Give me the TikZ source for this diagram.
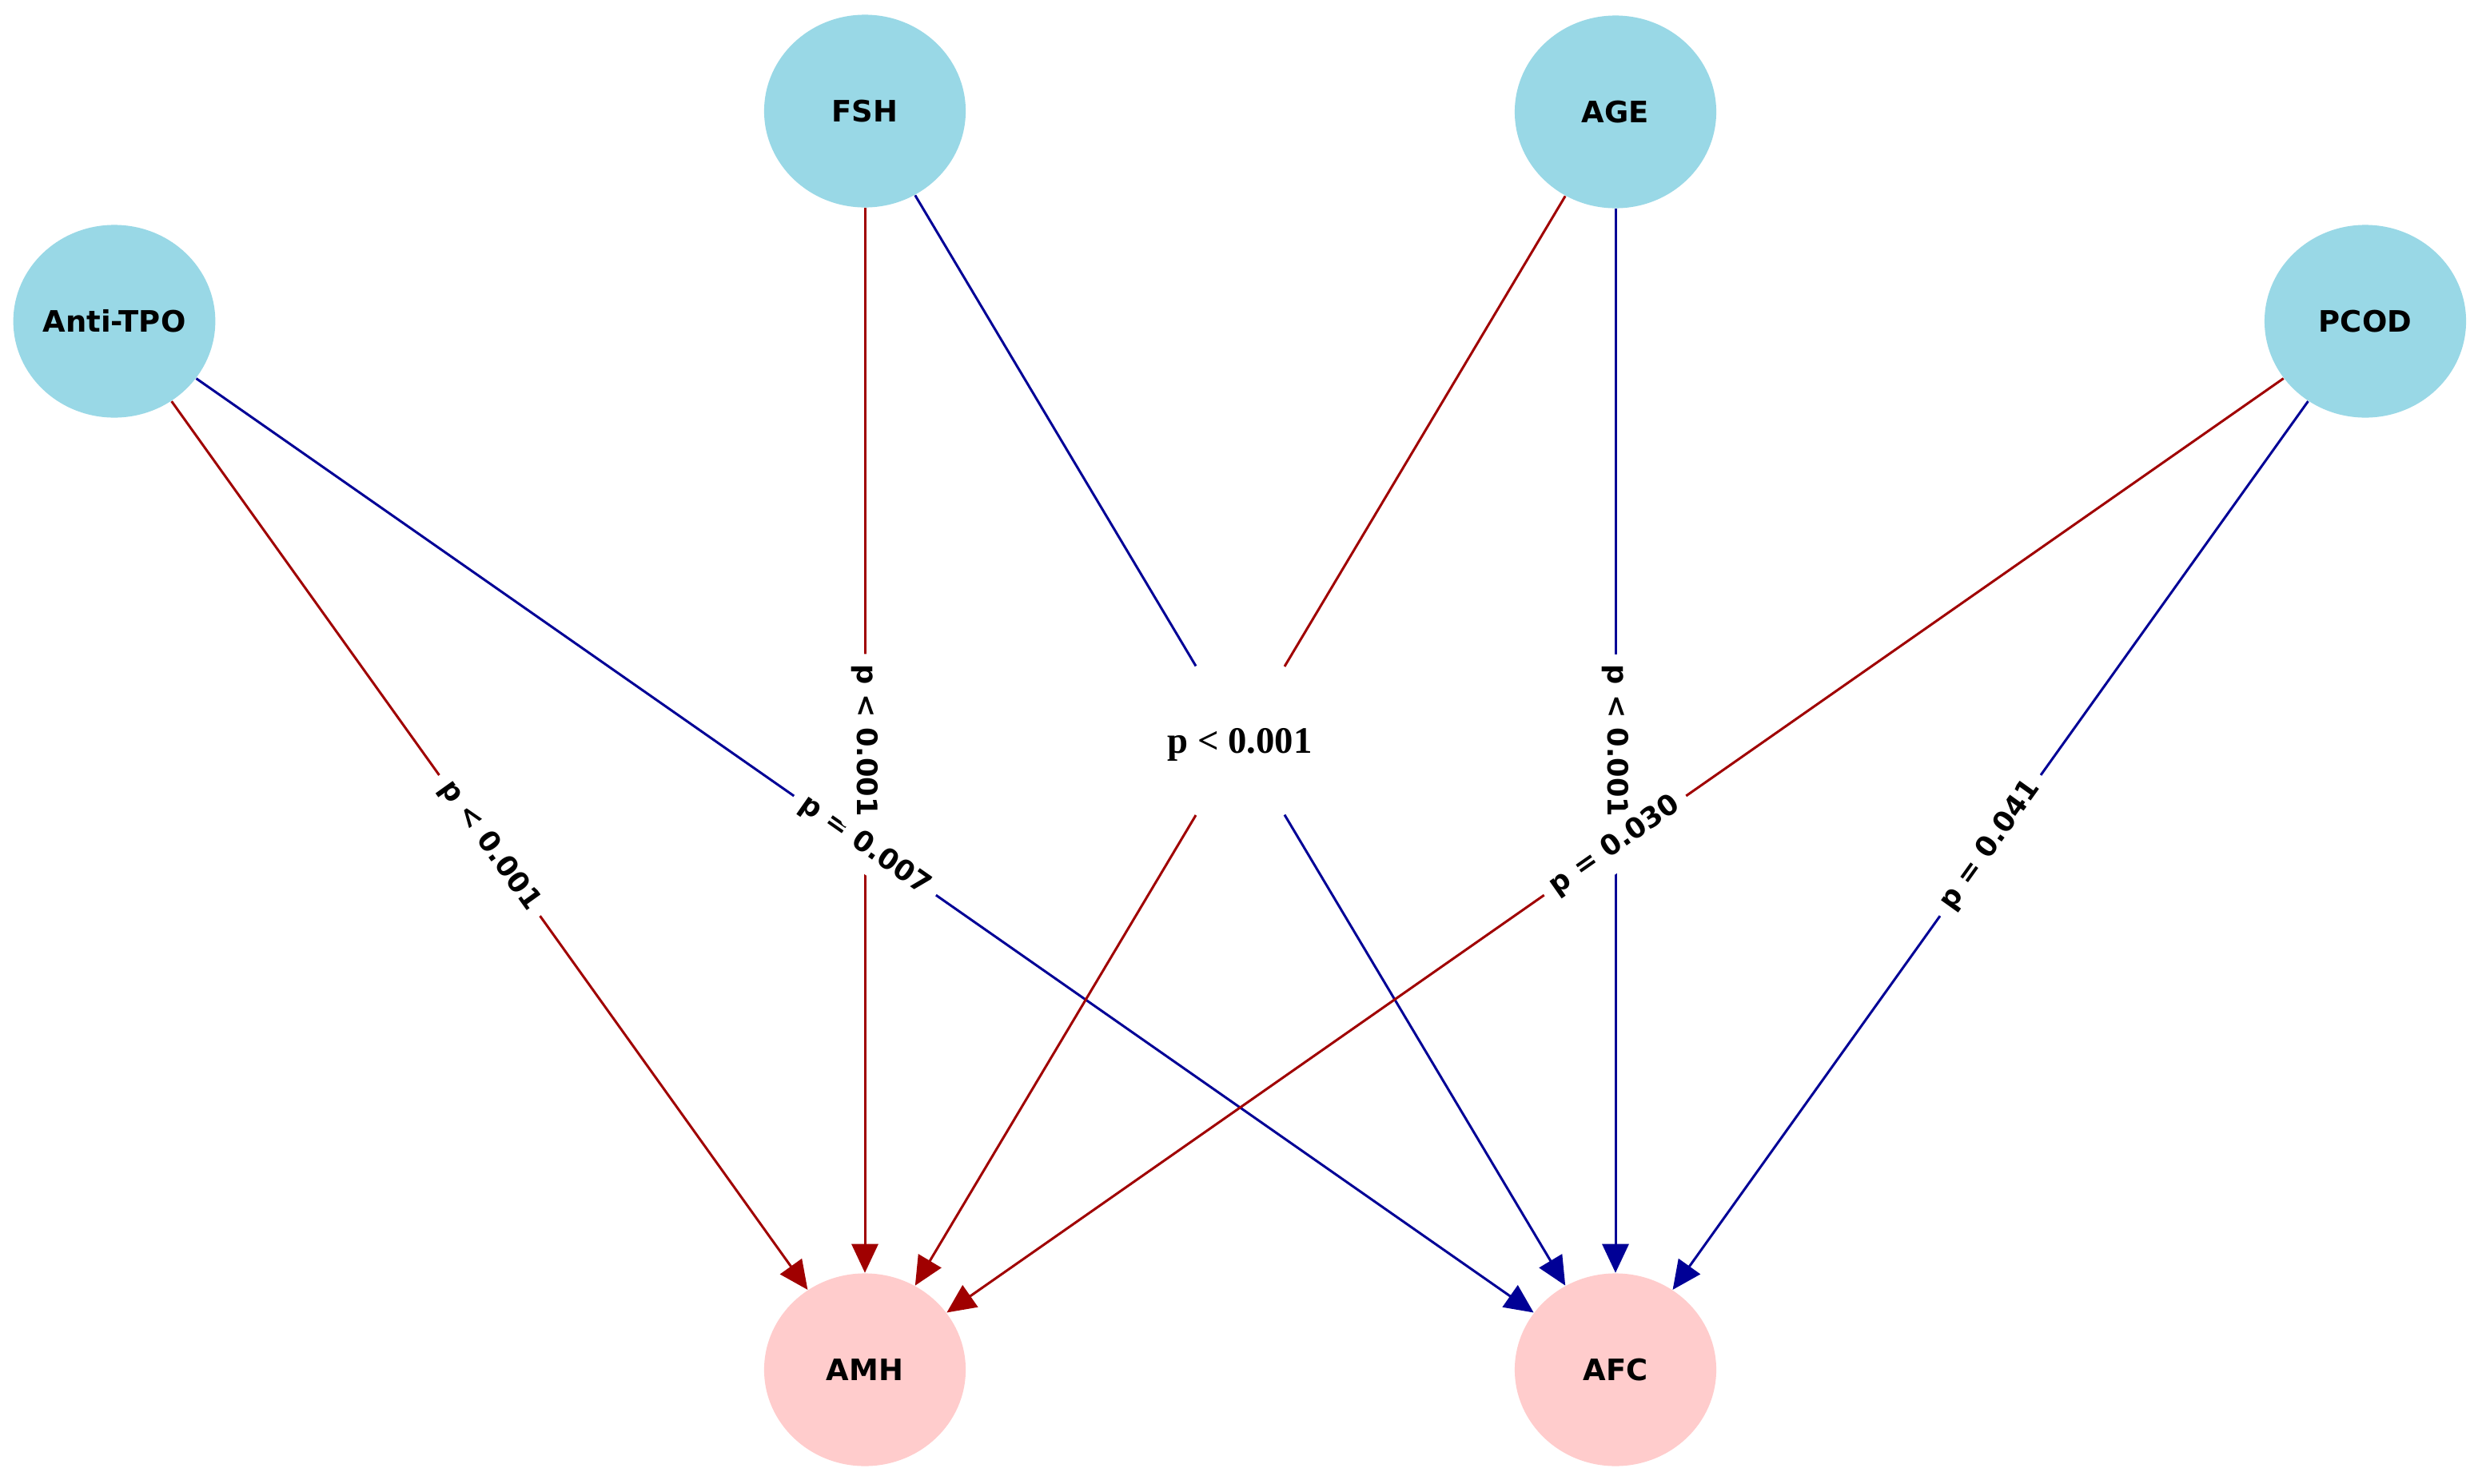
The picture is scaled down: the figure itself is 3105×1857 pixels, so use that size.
\documentclass[tikz,border=0pt]{standalone}
\usepackage{fontspec}
\setmainfont{DejaVu Sans}
\newfontfamily\timesf{Liberation Serif}
\usetikzlibrary{shapes.geometric,arrows.meta}
\definecolor{nodeblue}{RGB}{153,216,230}
\definecolor{nodepink}{RGB}{255,204,204}
\definecolor{edgered}{RGB}{160,0,0}
\definecolor{edgeblue}{RGB}{0,0,150}
\tikzset{
  src/.style={ellipse, fill=nodeblue, minimum width=2.52cm, minimum height=2.41cm, inner sep=0pt,
    font=\fontsize{10.5}{12}\selectfont\bfseries},
  tgt/.style={src, fill=nodepink},
  redarr/.style={draw=edgered, line width=0.03cm, -{Triangle[length=0.36cm,width=0.33cm]}, fill=edgered},
  bluearr/.style={draw=edgeblue, line width=0.03cm, -{Triangle[length=0.36cm,width=0.33cm]}, fill=edgeblue},
  elbl/.style={fill=white, rounded corners=0.08cm, inner sep=0.13cm, font=\fontsize{10}{12}\selectfont\bfseries},
  clbl/.style={fill=white, inner sep=0.05cm, font=\timesf\fontsize{13.3}{15}\selectfont\bfseries}
}
\begin{document}
\begin{tikzpicture}[x=0.01cm, y=-0.01cm]
\useasboundingbox[fill=white] (0,0) rectangle (3105,1857);
\node[src] (atpo) at (143,402) {Anti-TPO};
\node[src] (fsh)  at (1082,139) {FSH};
\node[src] (age)  at (2021,140) {AGE};
\node[src] (pcod) at (2959,402) {PCOD};
\node[tgt] (amh)  at (1082,1714) {AMH};
\node[tgt] (afc)  at (2021,1714) {AFC};
% edges
\draw[redarr]  (atpo) -- (amh);
\draw[bluearr] (atpo) -- (afc);
\draw[redarr]  (fsh)  -- (amh);
\draw[bluearr] (fsh)  -- (afc);
\draw[redarr]  (age)  -- (amh);
\draw[bluearr] (age)  -- (afc);
\draw[redarr]  (pcod) -- (amh);
\draw[bluearr] (pcod) -- (afc);
% edge labels
\path (atpo) -- node[elbl, sloped] {p < 0.001} (amh);
\path (atpo) -- node[elbl, sloped] {p = 0.007} (afc);
\path (fsh)  -- node[elbl, rotate=-90] {p < 0.001} (amh);
\path (fsh)  -- node[elbl, sloped] {\phantom{p < 0.001}} (afc);
\path (age)  -- node[elbl, sloped] {\phantom{p < 0.001}} (amh);
\path (age)  -- node[elbl, rotate=-90] {p < 0.001} (afc);
\path (pcod) -- node[elbl, sloped] {p = 0.030} (amh);
\path (pcod) -- node[elbl, sloped] {p = 0.041} (afc);
\node[clbl] (center) at (1551,932) {p < 0.001};
\end{tikzpicture}
\end{document}
